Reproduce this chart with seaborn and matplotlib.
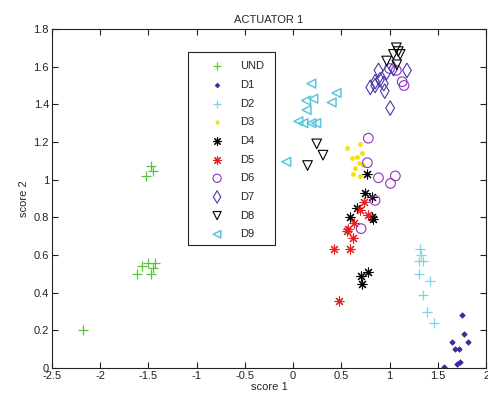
import numpy as np
import pandas as pd
import matplotlib
matplotlib.use("Agg")
import matplotlib.pyplot as plt
import seaborn as sns
from matplotlib.ticker import FuncFormatter
from matplotlib.patches import Rectangle

sns.set_theme(style="white")
plt.rcParams['font.family'] = ['Liberation Sans', 'DejaVu Sans']

labels = ["UND", "D1", "D2", "D3", "D4", "D5", "D6", "D7", "D8", "D9"]

und_x = [-2.18, -1.47, -1.52, -1.45, -1.62, -1.57, -1.50, -1.43, -1.47, -1.45]
und_y = [0.20, 1.07, 1.02, 1.045, 0.50, 0.54, 0.555, 0.555, 0.50, 0.53]

d1_x = [1.75, 1.77, 1.65, 1.81, 1.68, 1.72, 1.73, 1.70, 1.56]
d1_y = [0.28, 0.18, 0.14, 0.14, 0.10, 0.10, 0.03, 0.02, 0.005]

d2_x = [1.32, 1.30, 1.35, 1.30, 1.42, 1.35, 1.39, 1.46, 1.33]
d2_y = [0.63, 0.57, 0.57, 0.50, 0.46, 0.39, 0.30, 0.24, 0.60]

d3_x = [0.56, 0.695, 0.71, 0.61, 0.68, 0.72, 0.625, 0.695, 0.66, 0.64]
d3_y = [1.17, 1.19, 1.14, 1.115, 1.09, 1.08, 1.03, 1.02, 1.12, 1.06]

d4_x = [0.77, 0.75, 0.82, 0.66, 0.585, 0.82, 0.83, 0.78, 0.705, 0.71]
d4_y = [1.03, 0.93, 0.91, 0.85, 0.80, 0.80, 0.79, 0.51, 0.49, 0.445]

d5_x = [0.73, 0.695, 0.78, 0.63, 0.56, 0.57, 0.625, 0.425, 0.585, 0.48]
d5_y = [0.88, 0.84, 0.81, 0.77, 0.73, 0.74, 0.69, 0.63, 0.63, 0.355]

d6_x = [0.78, 0.77, 0.885, 1.06, 1.01, 0.85, 0.705, 1.13, 1.15, 1.00, 1.07]
d6_y = [1.22, 1.09, 1.01, 1.02, 0.98, 0.89, 0.74, 1.52, 1.50, 1.59, 1.58]

d7_x = [0.885, 0.85, 0.90, 0.97, 1.04, 1.18, 0.85, 0.94, 0.95, 1.006, 0.80]
d7_y = [1.58, 1.52, 1.53, 1.57, 1.59, 1.58, 1.50, 1.51, 1.47, 1.38, 1.49]

d8_x = [1.07, 1.09, 1.11, 1.04, 0.97, 1.075, 0.245, 0.31, 0.15]
d8_y = [1.70, 1.68, 1.665, 1.665, 1.63, 1.61, 1.19, 1.13, 1.075]

d9_x = [0.19, 0.45, 0.135, 0.21, 0.40, 0.14, 0.107, 0.19, 0.24, 0.055, -0.07]
d9_y = [1.51, 1.46, 1.42, 1.43, 1.41, 1.37, 1.30, 1.30, 1.30, 1.31, 1.095]

xs = [und_x, d1_x, d2_x, d3_x, d4_x, d5_x, d6_x, d7_x, d8_x, d9_x]
ys = [und_y, d1_y, d2_y, d3_y, d4_y, d5_y, d6_y, d7_y, d8_y, d9_y]

styles = {
    "UND": dict(marker="+", color="#5cc43a", s=55, linewidths=0.9),
    "D1": dict(marker="D", color="#3d2b9c", s=8, linewidths=0.5, edgecolor="#3d2b9c"),
    "D2": dict(marker="+", color="#7fd3e3", s=55, linewidths=0.9),
    "D3": dict(marker="o", color="#f2e400", s=12, linewidths=0, edgecolor="#f2e400"),
    "D4": dict(marker=(8, 2, 0), color="black", s=42, linewidths=0.8),
    "D5": dict(marker=(8, 2, 0), color="#e3211f", s=42, linewidths=0.8),
    "D6": dict(marker="o", facecolor="none", edgecolor="#9030c0", s=48, linewidths=0.8),
    "D7": dict(marker="d", facecolor="none", edgecolor="#4a35a8", s=55, linewidths=0.8),
    "D8": dict(marker="v", facecolor="none", edgecolor="black", s=48, linewidths=0.8),
    "D9": dict(marker="<", facecolor="none", edgecolor="#5cc6dc", s=40, linewidths=1.1),
}

fig = plt.figure(figsize=(4.89, 4.08), dpi=100)
ax = fig.add_axes([0.106, 0.098, 0.888, 0.831])

for lab, x, y in zip(labels, xs, ys):
    df = pd.DataFrame({"score 1": x, "score 2": y})
    sns.scatterplot(data=df, x="score 1", y="score 2", ax=ax, label=lab, **styles[lab])

ax.set_xlim(-2.5, 2)
ax.set_ylim(0, 1.8)
ax.set_xticks(np.arange(-2.5, 2.01, 0.5))
ax.set_yticks(np.arange(0, 1.81, 0.2))
fmt = FuncFormatter(lambda v, p: "%g" % round(v, 2))
ax.xaxis.set_major_formatter(fmt)
ax.yaxis.set_major_formatter(fmt)
ax.tick_params(direction="in", length=4, width=0.8, top=True, right=True,
               bottom=True, left=True, labelsize=8, colors="#222222", pad=2)
for sp in ax.spines.values():
    sp.set_color("#222222")
    sp.set_linewidth(0.8)
ax.set_xlabel("score 1", fontsize=8, labelpad=1)
ax.set_ylabel("score 2", fontsize=8, labelpad=3)
ax.set_title("ACTUATOR 1", fontsize=8, pad=4)

# legend box (drawn as a rectangle in axes coordinates)
ax.add_patch(Rectangle((0.313, 0.363), 0.201, 0.569, transform=ax.transAxes,
                       fill=True, facecolor="white", edgecolor="#222222",
                       linewidth=0.8, zorder=4))
leg = ax.legend(loc="upper left", bbox_to_anchor=(0.355, 0.905), fontsize=8,
                frameon=False, borderpad=0, labelspacing=0.78,
                handletextpad=1.1, handlelength=2.0, borderaxespad=0,
                markerscale=0.85)
leg.set_zorder(5)

fig.savefig("out.png", dpi=100)
